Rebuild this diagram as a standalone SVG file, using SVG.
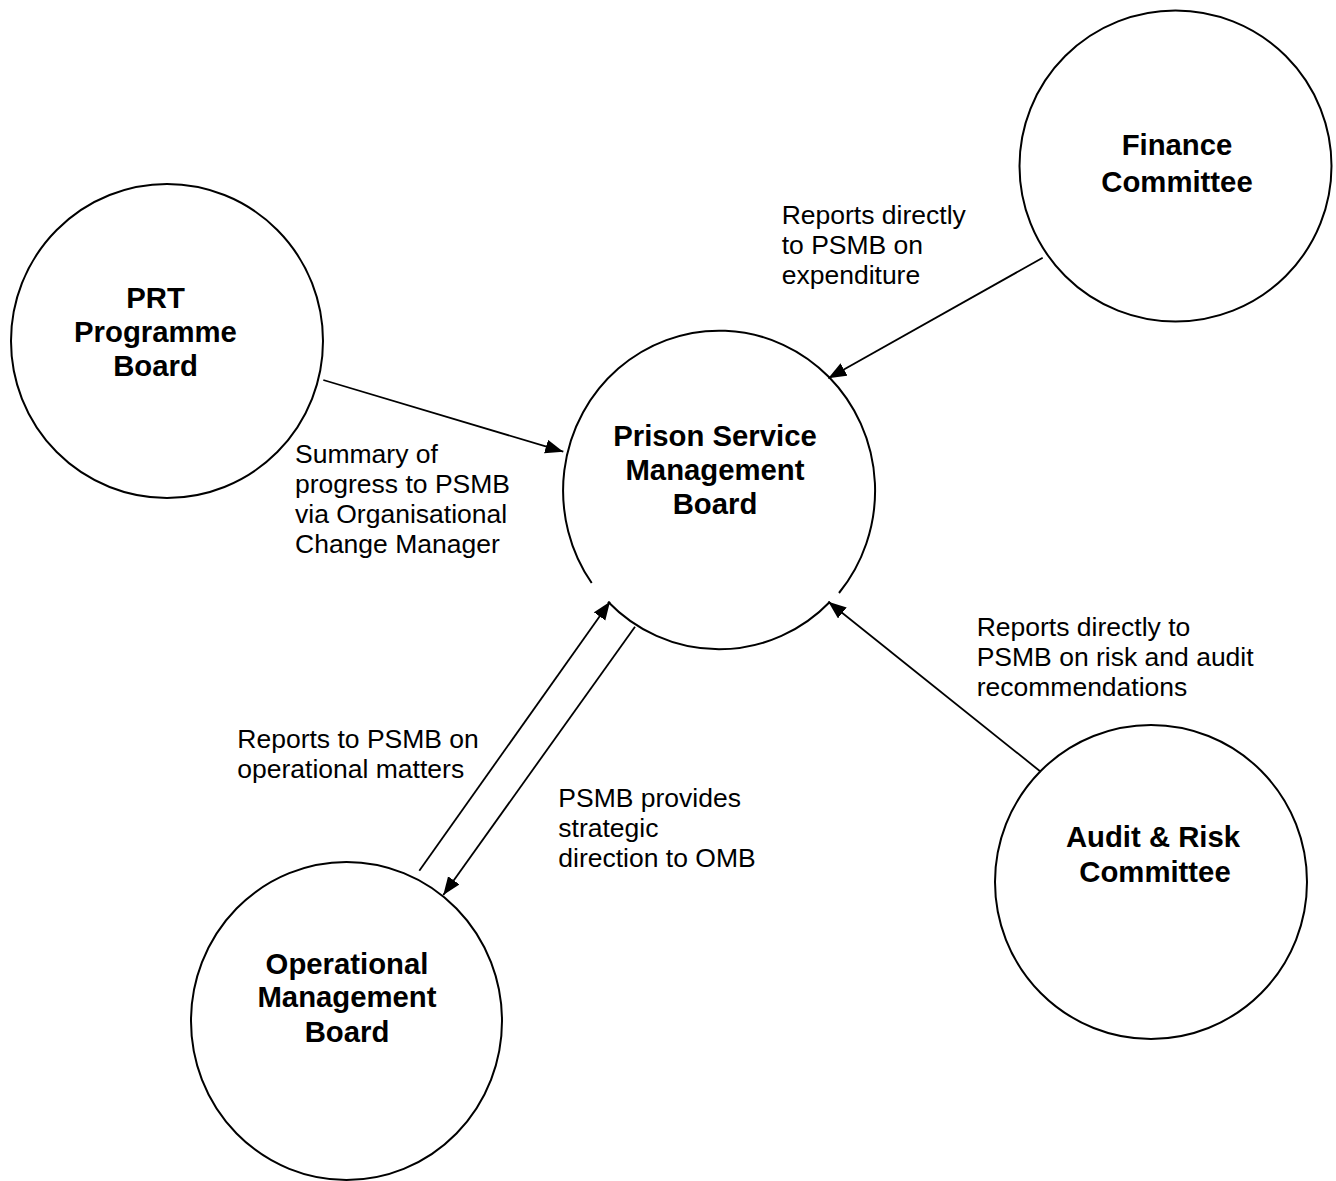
<svg xmlns="http://www.w3.org/2000/svg" width="1336" height="1181" viewBox="0 0 1336 1181">
<style>
.node{fill:#fff;stroke:#000;stroke-width:2}
.nt{font-family:"Liberation Sans",Arial,sans-serif;font-size:29.3px;font-weight:bold;text-anchor:middle;fill:#000}
.lb{font-family:"Liberation Sans",Arial,sans-serif;font-size:26.5px;fill:#000}
.edge{stroke:#000;stroke-width:1.8;fill:none}
</style>
<defs>
<marker id="arr" markerUnits="userSpaceOnUse" markerWidth="20" markerHeight="15" refX="18" refY="7" orient="auto">
<path d="M0,0 L18,7 L0,14 z" fill="#000"/>
</marker>
</defs>
<rect width="1336" height="1181" fill="#fff"/>
<g id="node-prt">
<ellipse class="node" cx="167" cy="341" rx="156" ry="157"/>
<text class="nt" x="155.5" y="307.5">PRT</text>
<text class="nt" x="155.5" y="341.5">Programme</text>
<text class="nt" x="155.5" y="375.5">Board</text>
</g>
<g id="node-finance">
<ellipse class="node" cx="1175.5" cy="166" rx="156" ry="155.5"/>
<text class="nt" x="1177" y="155">Finance</text>
<text class="nt" x="1177" y="192">Committee</text>
</g>
<g id="node-psmb">
<path class="node" d="M608 601.7 A156 160 0 0 0 830 601.7 M839 593 A156 160 0 1 0 591.7 583"/>
<text class="nt" x="715" y="446">Prison Service</text>
<text class="nt" x="715" y="479.5">Management</text>
<text class="nt" x="715" y="513.5">Board</text>
</g>
<g id="node-omb">
<ellipse class="node" cx="346.5" cy="1021" rx="155.5" ry="159"/>
<text class="nt" x="347" y="973.5">Operational</text>
<text class="nt" x="347" y="1007">Management</text>
<text class="nt" x="347" y="1041.5">Board</text>
</g>
<g id="node-audit">
<ellipse class="node" cx="1151" cy="882" rx="156" ry="157"/>
<text class="nt" x="1153" y="846.5">Audit &amp; Risk</text>
<text class="nt" x="1155" y="881.5">Committee</text>
</g>
<g id="connectors">
<line class="edge" x1="323.3" y1="380" x2="563.3" y2="451.7" marker-end="url(#arr)"/>
<line class="edge" x1="1042.7" y1="257.7" x2="828.3" y2="378.3" marker-end="url(#arr)"/>
<line class="edge" x1="1040.7" y1="771.7" x2="828.3" y2="601.7" marker-end="url(#arr)"/>
<line class="edge" x1="419.3" y1="870.7" x2="610" y2="601.7" marker-end="url(#arr)"/>
<line class="edge" x1="635" y1="626.7" x2="443.3" y2="895" marker-end="url(#arr)"/>
</g>
<g id="labels">
<text class="lb" x="781.7" y="224.3">Reports directly</text>
<text class="lb" x="781.7" y="254.3">to PSMB on</text>
<text class="lb" x="781.7" y="284.3">expenditure</text>
<text class="lb" x="295" y="463.3">Summary of</text>
<text class="lb" x="295" y="493.3">progress to PSMB</text>
<text class="lb" x="295" y="523.3">via Organisational</text>
<text class="lb" x="295" y="553.3">Change Manager</text>
<text class="lb" x="976.7" y="635.7">Reports directly to</text>
<text class="lb" x="976.7" y="665.7">PSMB on risk and audit</text>
<text class="lb" x="976.7" y="696">recommendations</text>
<text class="lb" x="237.3" y="747.7">Reports to PSMB on</text>
<text class="lb" x="237.3" y="777.7">operational matters</text>
<text class="lb" x="558.3" y="806.7">PSMB provides</text>
<text class="lb" x="558.3" y="836.7">strategic</text>
<text class="lb" x="558.3" y="867">direction to OMB</text>
</g>
</svg>
